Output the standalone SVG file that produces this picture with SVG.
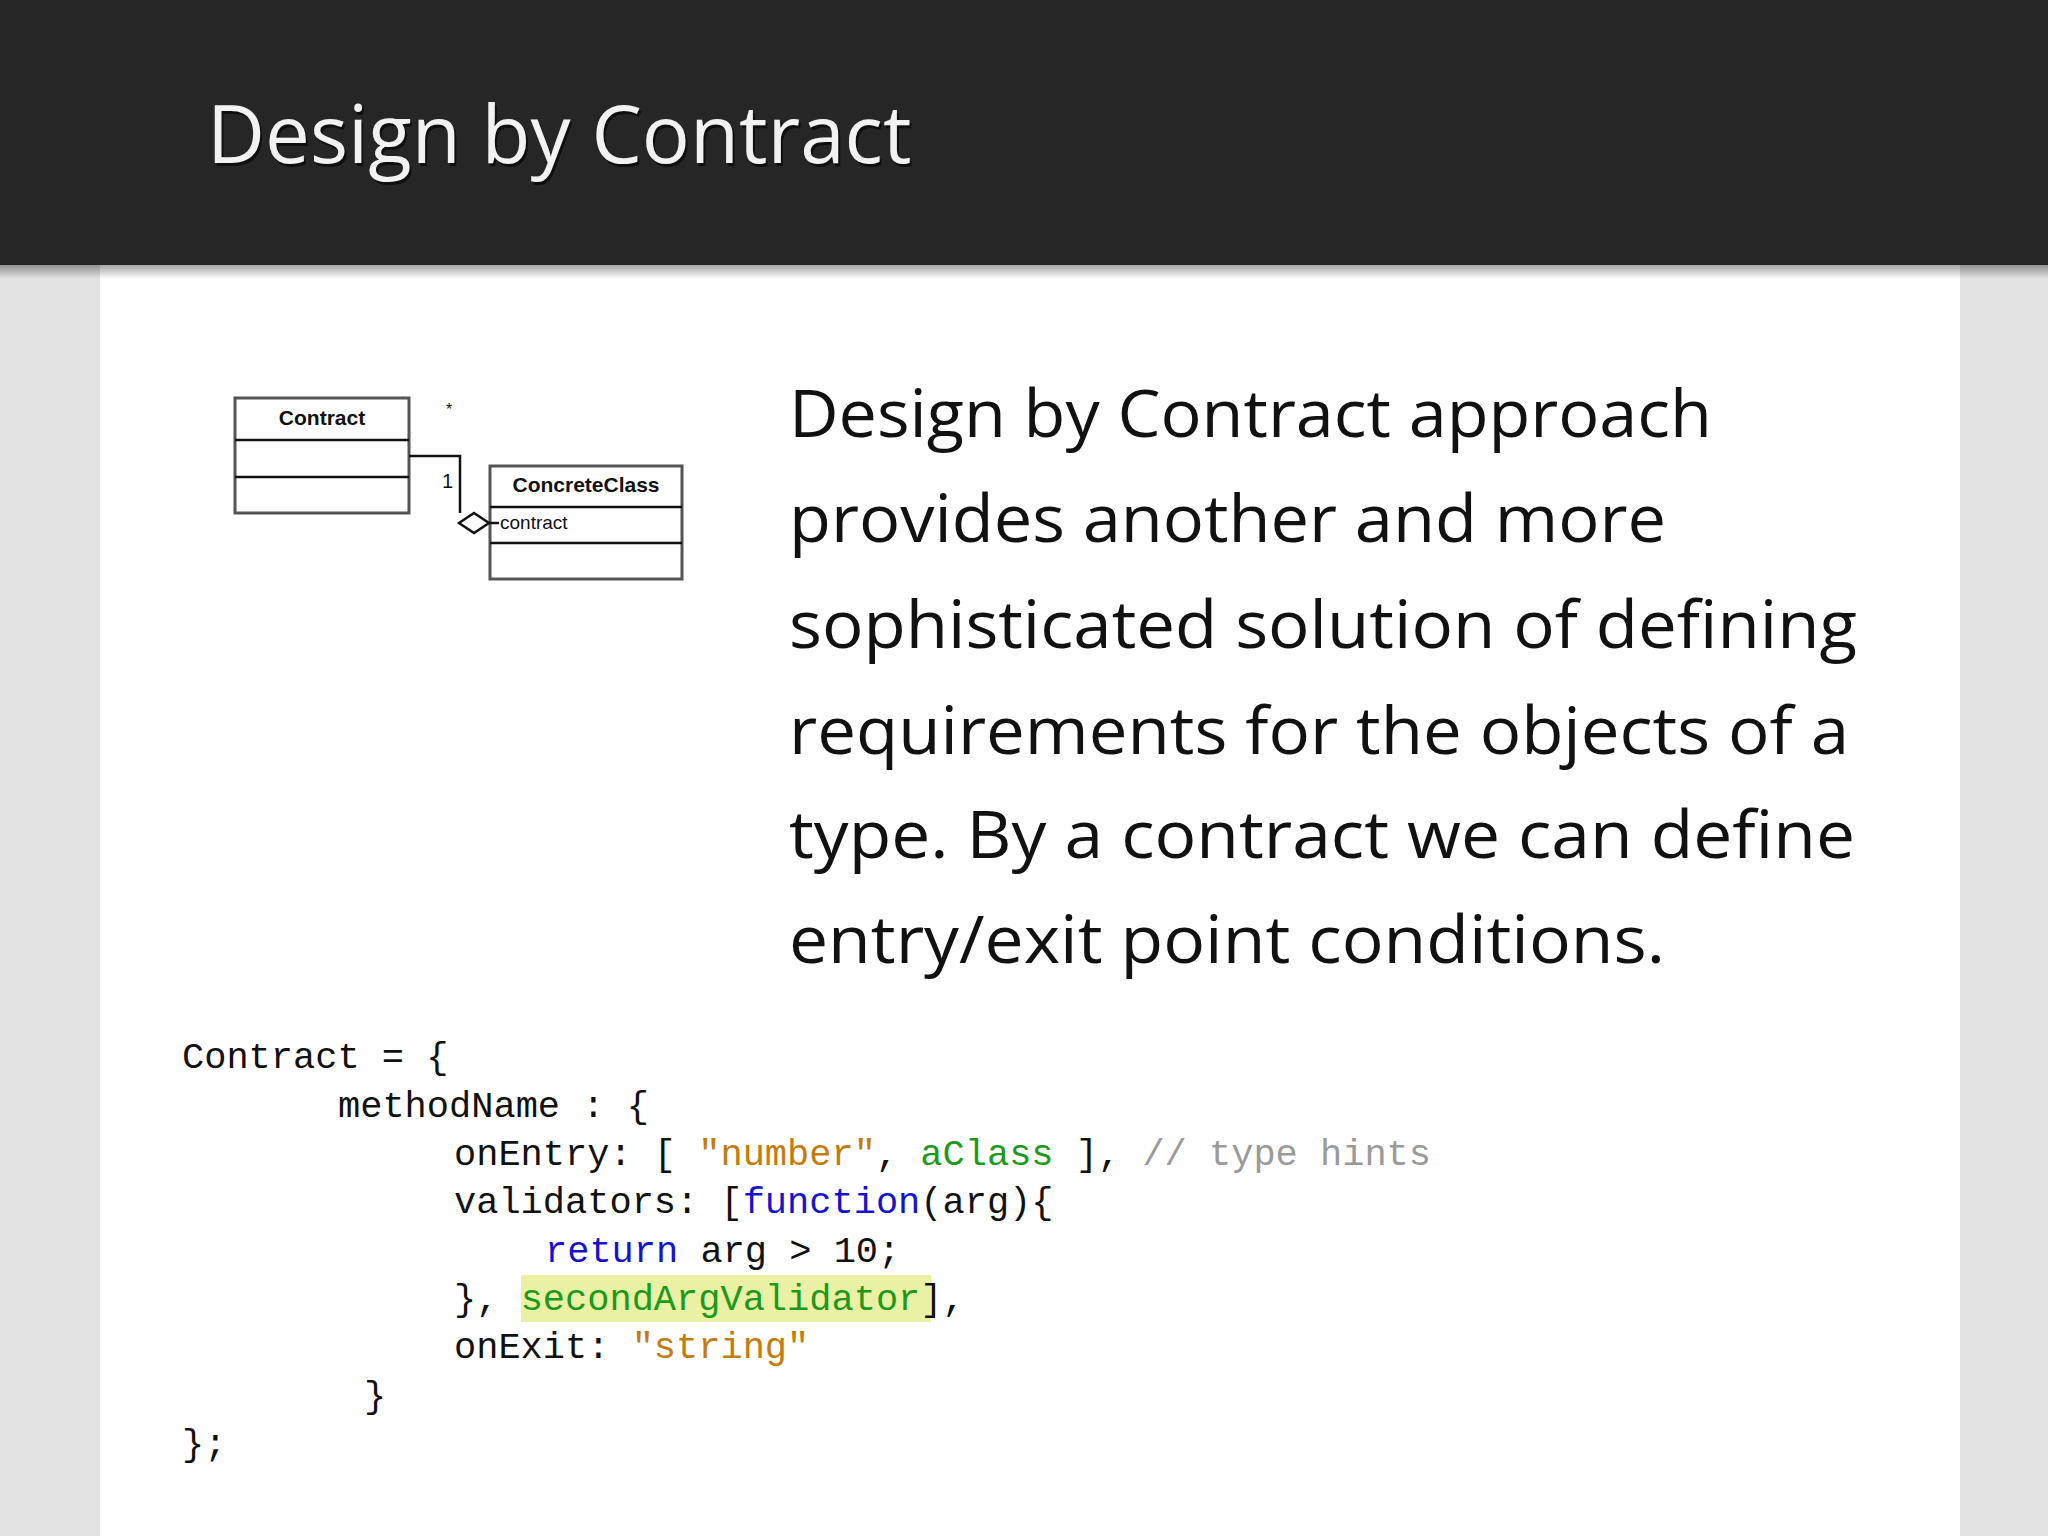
<svg xmlns="http://www.w3.org/2000/svg" width="2048" height="1536" viewBox="0 0 2048 1536">
<defs>
<linearGradient id="sh" x1="0" y1="0" x2="0" y2="1"><stop offset="0" stop-color="#000" stop-opacity="0.35"/><stop offset="1" stop-color="#000" stop-opacity="0"/></linearGradient>
<style>
.uml{fill:#fff;stroke:#555;stroke-width:3}
.ln{stroke:#111;stroke-width:2.5;fill:none}
.ut{font-family:"Liberation Sans",Arial,sans-serif;fill:#111}
.body{font-family:"Open Sans",sans-serif;font-size:66px;fill:#111}
.code{font-family:"Liberation Mono",monospace;font-size:37px;fill:#111;white-space:pre}
.o{fill:#c47c0c}.g{fill:#1b9a1b}.b{fill:#1414d0}.c{fill:#9a9a9a}
</style>
</defs>
<rect width="2048" height="1536" fill="#e3e3e3"/>
<rect x="100" y="265" width="1860" height="1271" fill="#fff"/>
<rect x="0" y="265" width="2048" height="14" fill="url(#sh)"/>
<rect width="2048" height="265" fill="#262626"/>
<text x="209" y="166" font-family="Open Sans,sans-serif" font-size="80" fill="#000" opacity="0.6">Design by Contract</text>
<text x="207" y="163" font-family="Open Sans,sans-serif" font-size="80" fill="#f2f2f2">Design by Contract</text>
<g id="contract">
<rect class="uml" x="235" y="398" width="174" height="115"/>
<line class="ln" x1="235" y1="440" x2="409" y2="440"/>
<line class="ln" x1="235" y1="477" x2="409" y2="477"/>
<text class="ut" x="322" y="425" font-size="21" font-weight="bold" text-anchor="middle">Contract</text>
</g>
<g id="concreteclass">
<rect class="uml" x="490" y="466" width="192" height="113"/>
<line class="ln" x1="490" y1="507" x2="682" y2="507"/>
<line class="ln" x1="490" y1="543" x2="682" y2="543"/>
<text class="ut" x="586" y="492" font-size="21" font-weight="bold" text-anchor="middle">ConcreteClass</text>
<text class="ut" x="500" y="529" font-size="19">contract</text>
</g>
<g id="connectors">
<polyline class="ln" points="409,456 460,456 460,513"/>
<polygon points="459,523 474,513 489,523 474,533" fill="#fff" stroke="#111" stroke-width="2.5"/>
<line class="ln" x1="489" y1="523" x2="499" y2="523"/>
<text class="ut" x="446" y="415" font-size="16">*</text>
<text class="ut" x="442" y="488" font-size="20">1</text>
</g>
<g id="body">
<text class="body" x="789" y="437" textLength="923" lengthAdjust="spacingAndGlyphs">Design by Contract approach</text>
<text class="body" x="789" y="542" textLength="877" lengthAdjust="spacingAndGlyphs">provides another and more</text>
<text class="body" x="789" y="648" textLength="1068" lengthAdjust="spacingAndGlyphs">sophisticated solution of defining</text>
<text class="body" x="789" y="754" textLength="1060" lengthAdjust="spacingAndGlyphs">requirements for the objects of a</text>
<text class="body" x="789" y="858" textLength="1066" lengthAdjust="spacingAndGlyphs">type. By a contract we can define</text>
<text class="body" x="789" y="963" textLength="876" lengthAdjust="spacingAndGlyphs">entry/exit point conditions.</text>
</g>
<g id="code">
<rect x="521" y="1275" width="410" height="47" fill="#eaf0a4"/>
<text class="code" x="182" y="1068">Contract = {</text>
<text class="code" x="338" y="1117">methodName : {</text>
<text class="code" x="454" y="1165">onEntry: [ <tspan class="o">"number"</tspan>, <tspan class="g">aClass</tspan> ], <tspan class="c">// type hints</tspan></text>
<text class="code" x="454" y="1213">validators: [<tspan class="b">function</tspan>(arg){</text>
<text class="code" x="545" y="1262"><tspan class="b">return</tspan> arg &gt; 10;</text>
<text class="code" x="454" y="1310">}, <tspan class="g">secondArgValidator</tspan>],</text>
<text class="code" x="454" y="1358">onExit: <tspan class="o">"string"</tspan></text>
<text class="code" x="364" y="1407">}</text>
<text class="code" x="182" y="1455">};</text>
</g>
</svg>
